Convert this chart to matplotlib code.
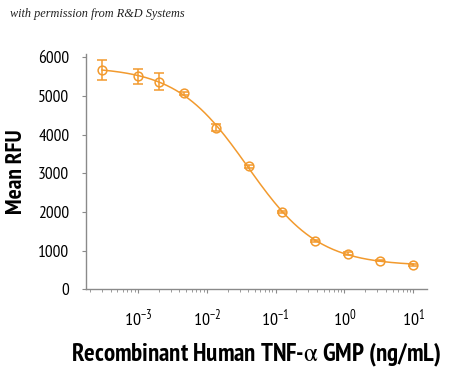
import numpy as np
import matplotlib
matplotlib.use("Agg")
import matplotlib.pyplot as plt
from matplotlib.ticker import LogLocator, FixedLocator, NullFormatter

conc = [0.0003, 0.001, 0.002, 0.0046, 0.0137, 0.041, 0.123, 0.37, 1.11, 3.33, 10.0]
rfu = [5670, 5506, 5369, 5065, 4182, 3177, 2008, 1255, 927, 745, 631]
err = [250, 200, 220, 30, 100, 40, 25, 25, 30, 20, 25]
yticks = [0, 1000, 2000, 3000, 4000, 5000, 6000]
xticks = [1e-3, 1e-2, 1e-1, 1e0, 1e1]
xticklabels = [r"$10^{-3}$", r"$10^{-2}$", r"$10^{-1}$", r"$10^{0}$", r"$10^{1}$"]

color = "#F29A2E"
plt.rcParams["font.family"] = ["PT Sans Narrow", "DejaVu Sans"]
plt.rcParams["mathtext.fontset"] = "custom"
plt.rcParams["mathtext.rm"] = "PT Sans Narrow"
plt.rcParams["mathtext.it"] = "PT Sans Narrow"
plt.rcParams["mathtext.bf"] = "PT Sans Narrow:bold"
plt.rcParams["mathtext.default"] = "regular"

# 4-parameter logistic fit to the points (grid search + linear LS)
lx = np.log10(conc)
y = np.array(rfu, float)
best = None
for lec in np.linspace(-2.2, -0.8, 141):
    for h in np.linspace(0.5, 1.5, 101):
        f = 1.0 / (1.0 + 10 ** (h * (lx - lec)))
        A = np.vstack([1 - f, f]).T
        coef, *_ = np.linalg.lstsq(A, y, rcond=None)
        r = np.sum((A @ coef - y) ** 2)
        if best is None or r < best[0]:
            best = (r, lec, h, coef)
_, lec, h, (bottom, top) = best
xf = np.logspace(np.log10(conc[0]), np.log10(conc[-1]), 300)
ff = 1.0 / (1.0 + 10 ** (h * (np.log10(xf) - lec)))
yf = bottom + (top - bottom) * ff

fig = plt.figure(figsize=(4.5, 3.71), dpi=100)
ax = fig.add_axes([0.191, 0.22, 0.758, 0.634])
ax.plot(xf, yf, color=color, lw=1.1)
ax.errorbar(conc, rfu, yerr=err, fmt="o", mfc="none", mec=color, ms=6.3, mew=1.1,
            ecolor=color, elinewidth=1.1, capsize=3.5, capthick=1.1)
ax.set_xscale("log")
ax.set_xlim(10 ** -3.756, 10 ** 1.2)
ax.set_ylim(0, 6080)
ax.set_yticks(yticks)
ax.set_yticklabels([str(v) for v in yticks], fontsize=12.5)
ax.xaxis.set_major_locator(FixedLocator(xticks))
ax.set_xticklabels(xticklabels, fontsize=13)
ax.xaxis.set_minor_locator(LogLocator(base=10, subs=np.arange(2, 10), numticks=20))
ax.xaxis.set_minor_formatter(NullFormatter())
for s in ["top", "right"]:
    ax.spines[s].set_visible(False)
for s in ["left", "bottom"]:
    ax.spines[s].set_color("#8a8a8a")
    ax.spines[s].set_linewidth(1.0)
ax.tick_params(axis="both", which="major", colors="#8a8a8a", labelcolor="black", length=3, width=0.8)
ax.tick_params(axis="y", pad=9)
ax.tick_params(axis="x", pad=10)
ax.tick_params(axis="x", which="minor", colors="#8a8a8a", length=2, width=0.6)
ax.set_ylabel("Mean RFU", fontsize=17, fontweight="bold", labelpad=8)
ax.set_xlabel(r"Recombinant Human TNF-$\alpha$ GMP (ng/mL)", fontsize=18, fontweight="bold", labelpad=8)
fig.text(0.022, 0.955, "with permission from R&D Systems", fontsize=8.8, style="italic",
         family=["Liberation Serif", "DejaVu Serif"], color="#222222")
fig.savefig("out.png", dpi=100)
